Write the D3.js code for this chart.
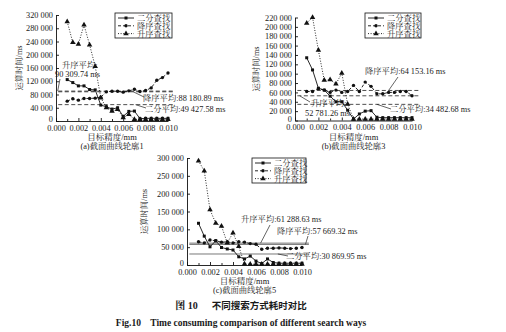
<!DOCTYPE html>
<html><head><meta charset="utf-8">
<script src="https://cdn.jsdelivr.net/npm/d3@7"></script>
<style>
html,body{margin:0;padding:0;background:#fff;}
svg{display:block;}
text{fill:#1a1a1a;}
</style></head>
<body>
<svg id="chart" width="506" height="332"></svg>
<script>
// ---------- data ----------
const xValues = [0.001,0.0015,0.002,0.0025,0.003,0.0035,0.004,0.0045,0.005,0.0055,0.006,0.0065,0.007,0.0075,0.008,0.0085,0.009,0.0095,0.010];
const seriesNames = ["二分查找","降序查找","升序查找"];
const xTicks = [0,0.002,0.004,0.006,0.008,0.010];
const xMinorTicks = [0.001,0.003,0.005,0.007,0.009];

// (a) profile 1
const binaryA = [125000,116000,106000,106000,95000,94000,48000,43000,36000,40000,14000,29000,30000,7000,8000,8000,8000,8000,8000];
const descA   = [60000,67000,63000,68000,68000,69000,72000,88000,90000,90000,87000,91000,96000,89000,92000,100000,123000,131000,145000];
const ascA    = [300000,237000,232000,290000,230000,165000,70000,40000,30000,35000,10000,20000,5000,5000,5000,5000,5000,5000,5000];
const meansA  = [49427.58,88180.89,90309.74];
const yTicksA = [0,40000,80000,120000,160000,200000,240000,280000,320000];

// (b) profile 3
const binaryB = [134000,108000,69000,65000,52000,40000,40000,22000,3000,14000,20000,21000,7000,6000,6000,6000,6000,6000,6000];
const descB   = [62000,62000,68000,65000,60000,65000,60000,62000,75000,62000,82000,73000,57000,57000,60000,60000,62000,62000,53000];
const ascB    = [208000,220000,150000,86000,87000,78000,101000,35000,3000,3000,3000,3000,3000,3000,3000,3000,3000,3000,3000];
const meansB  = [34482.68,64153.16,52781.26];
const yTicksB = [0,20000,40000,60000,80000,100000,120000,140000,160000,180000,200000,220000];

// (c) profile 5
const binaryC = [117000,81000,51000,68000,49000,45000,42000,23000,17000,25000,11000,4000,17000,7000,5000,5000,5000,5000,5000];
const descC   = [65000,62000,70000,68000,64000,65000,62000,65000,64000,60000,58000,44000,47000,47000,48000,47000,46000,47000,49000];
const ascC    = [292000,264000,155000,117000,109000,62000,90000,52000,3000,2000,2000,2000,2000,2000,2000,2000,2000,2000,2000];
const meansC  = [30869.95,57669.32,61288.63];
const yTicksC = [0,50000,100000,150000,200000,250000,300000];

const panelCaptions = ["(a)截面曲线轮廓1","(b)截面曲线轮廓3","(c)截面曲线轮廓5"];
const xTitle = "目标精度/mm";
const yTitle = "运算时间/ms";
const meanPrefix = ["二分平均:","降序平均:","升序平均:"];
const figTitleCn = ["图 10","不同搜索方式耗时对比"];
const figTitleEn = "Fig.10    Time consuming comparison of different search ways";

// ---------- layout ----------
const SERIF = "'Liberation Serif','Noto Serif CJK SC','Noto Sans CJK SC',serif";
const svg = d3.select("#chart");
const fmtY = v => d3.format(",")(v).replace(/,/g," ");
const fmtMean = v => d3.format(",.2f")(v).replace(/,/g," ");

const panels = [
  { series:[binaryA,descA,ascA], means:meansA, yTicks:yTicksA, yMax:320000,
    x0:56, x1:168, y0:121, y1:15, meanStyle:"dash", caption:panelCaptions[0],
    yTitleX:22, legend:{x:115,y:13,w:57},
    notes:[
      {i:2, lines:[[62,68,"升序平均:"],[55,77,"90 309.74 ms"]], lx:0.00015, tx:60, ty:79, two:true},
      {i:1, lines:[[143,101]], lx:0.0069, tx:144, ty:97},
      {i:0, lines:[[145,112]], lx:0.0071, tx:146, ty:108}
    ]},
  { series:[binaryB,descB,ascB], means:meansB, yTicks:yTicksB, yMax:220000,
    x0:295, x1:412, y0:120.5, y1:17.5, meanStyle:"dash", caption:panelCaptions[1],
    yTitleX:259, legend:{x:365,y:13,w:56},
    notes:[
      {i:1, lines:[[365,74]], lx:0.0080, tx:398, ty:77},
      {i:0, lines:[[390,112]], lx:0.0070, tx:391, ty:109},
      {i:2, lines:[[311,106,"升序平均:"],[305,116,"52 781.26 ms"]], lx:0.0004, tx:310, ty:102, two:true}
    ]},
  { series:[binaryC,descC,ascC], means:meansC, yTicks:yTicksC, yMax:300000,
    x0:187, x1:302, y0:265, y1:158, meanStyle:"solid", caption:panelCaptions[2],
    yTitleX:147, legend:{x:252,y:158,w:54},
    notes:[
      {i:2, lines:[[241,222]], lx:0.0064, tx:270, ty:225},
      {i:1, lines:[[277,234]], lx:0.0103, tx:308, ty:236},
      {i:0, lines:[[286,259]], lx:0.0079, tx:288, ty:256}
    ]}
];

const lineDash = ["none","3,2","1,1.6"];
const symbols = [d3.symbolSquare, d3.symbolCircle, d3.symbolTriangle];
const symSize = [9, 9, 13];

panels.forEach(p => {
  const g = svg.append("g");
  const x = d3.scaleLinear().domain([0,0.010]).range([p.x0,p.x1]);
  const y = d3.scaleLinear().domain([0,p.yMax]).range([p.y0,p.y1]);

  // mean lines
  p.means.forEach((m,i) => {
    g.append("line")
      .attr("x1", x(0.0002)).attr("x2", x(0.0106))
      .attr("y1", y(m)).attr("y2", y(m))
      .attr("stroke", p.meanStyle==="solid" ? "#555" : "#222")
      .attr("stroke-width", 0.8)
      .attr("stroke-dasharray", p.meanStyle==="solid" ? null : "4,2.5");
  });

  // axes
  const yAxis = d3.axisLeft(y).tickValues(p.yTicks).tickFormat(fmtY).tickSizeInner(-3).tickSizeOuter(0).tickPadding(3);
  const ya = g.append("g").attr("transform",`translate(${p.x0},0)`).call(yAxis);
  const xAxis = d3.axisBottom(x).tickValues(xTicks).tickFormat(d3.format(".3f")).tickSizeInner(-3).tickSizeOuter(0).tickPadding(4);
  const xa = g.append("g").attr("transform",`translate(0,${p.y0})`).call(xAxis);
  const xm = g.append("g").attr("transform",`translate(0,${p.y0})`)
    .call(d3.axisBottom(x).tickValues(xMinorTicks).tickFormat("").tickSizeInner(-2).tickSizeOuter(0));
  xm.select(".domain").remove();
  [ya,xa,xm].forEach(a => {
    a.selectAll("path,line").attr("stroke","#111").attr("stroke-width",0.9);
    a.selectAll("text").attr("font-family",SERIF).attr("font-size",8.3).attr("fill","#1a1a1a");
  });
  ya.selectAll(".tick text").filter(d => d === 0).attr("dy","0.1em");

  // series
  p.series.forEach((vals,si) => {
    const pts = xValues.map((xv,k) => [xv, vals[k]]);
    g.append("path").datum(pts)
      .attr("d", d3.line().x(d=>x(d[0])).y(d=>y(d[1])))
      .attr("fill","none").attr("stroke","#111")
      .attr("stroke-width", 0.9)
      .attr("stroke-dasharray", lineDash[si]==="none"?null:lineDash[si]);
    g.selectAll(null).data(pts).enter().append("path")
      .attr("d", d3.symbol().type(symbols[si]).size(symSize[si]))
      .attr("transform", d=>`translate(${x(d[0])},${y(d[1])})`)
      .attr("fill","#111");
  });

  // annotations
  p.notes.forEach(n => {
    const m = p.means[n.i];
    g.append("line")
      .attr("x1", x(n.lx)).attr("y1", y(m))
      .attr("x2", n.tx).attr("y2", n.ty)
      .attr("stroke","#222").attr("stroke-width",0.7);
    if (n.two) {
      n.lines.forEach(l => g.append("text").attr("x",l[0]).attr("y",l[1])
        .attr("font-family",SERIF).attr("font-size",8.3).text(l[2]));
    } else {
      const l = n.lines[0];
      g.append("text").attr("x",l[0]).attr("y",l[1])
        .attr("font-family",SERIF).attr("font-size",8.3)
        .text(meanPrefix[n.i] + fmtMean(m) + " ms");
    }
  });

  // legend
  const L = p.legend;
  g.append("rect").attr("x",L.x).attr("y",L.y).attr("width",L.w).attr("height",25)
    .attr("fill","#fff").attr("stroke","#111").attr("stroke-width",0.8);
  seriesNames.forEach((nm,si) => {
    const ly = L.y + 5 + si*7.8;
    g.append("line").attr("x1",L.x+3).attr("x2",L.x+19).attr("y1",ly).attr("y2",ly)
      .attr("stroke","#111").attr("stroke-width",0.9)
      .attr("stroke-dasharray", lineDash[si]==="none"?null:lineDash[si]);
    g.append("path").attr("d", d3.symbol().type(symbols[si]).size(symSize[si]))
      .attr("transform",`translate(${L.x+11},${ly})`).attr("fill","#111");
    g.append("text").attr("x",L.x+22).attr("y",ly+3).attr("font-family",SERIF)
      .attr("font-size",8.3).text(nm);
  });

  // titles
  const cx = (p.x0+p.x1)/2;
  g.append("text").attr("x",cx).attr("y",p.y0+19).attr("text-anchor","middle")
    .attr("font-family",SERIF).attr("font-size",8.5).text(xTitle);
  g.append("text").attr("x",cx).attr("y",p.y0+28).attr("text-anchor","middle")
    .attr("font-family",SERIF).attr("font-size",8.3).text(p.caption);
  g.append("text").attr("transform",`translate(${p.yTitleX},${(p.y0+p.y1)/2}) rotate(-90)`)
    .attr("text-anchor","middle").attr("font-family",SERIF).attr("font-size",8.3).text(yTitle);
});

// figure caption
const cap = svg.append("text").attr("x",241).attr("y",309).attr("text-anchor","middle")
  .attr("font-family","'Noto Sans CJK SC',sans-serif").attr("font-size",9.5).attr("font-weight","bold");
cap.append("tspan").attr("font-family",SERIF).attr("font-size",10).text(figTitleCn[0]);
cap.append("tspan").attr("dx",14).text(figTitleCn[1]);
svg.append("text").attr("x",241).attr("y",326).attr("text-anchor","middle")
  .attr("font-family",SERIF).attr("font-size",9.5).attr("font-weight","bold")
  .attr("xml:space","preserve").style("white-space","pre").text(figTitleEn);
</script>
</body></html>
